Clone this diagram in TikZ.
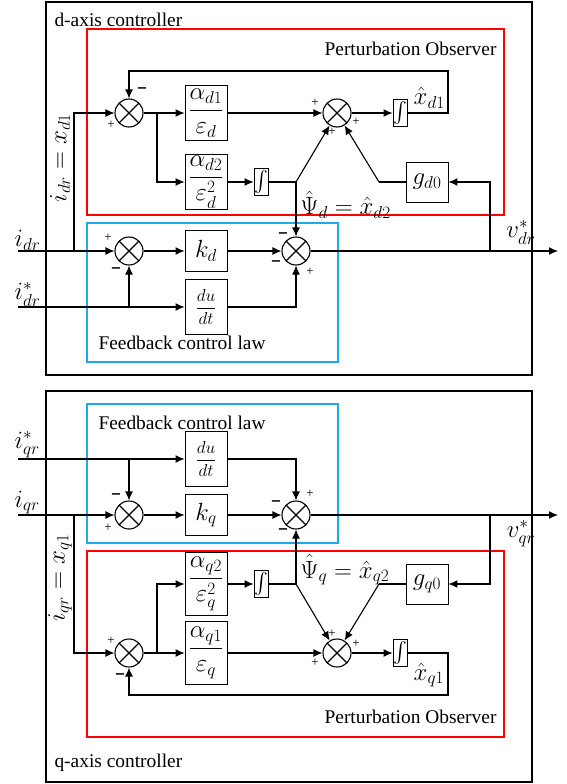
\documentclass[tikz,border=0pt]{standalone}
\usepackage{amsmath}
\usepackage{fontspec}
\setmainfont{Liberation Serif}
\newfontfamily\signfont{DejaVu Sans}
\usetikzlibrary{arrows.meta}

\tikzset{
  blk/.style={draw, line width=0.9pt, minimum width=42pt, minimum height=41pt,
              inner sep=0, font=\fontsize{26}{30}\selectfont},
  intg/.style={draw, line width=0.9pt, minimum width=14pt, minimum height=27pt,
               inner sep=0, font=\fontsize{20}{24}\selectfont},
  sumj/.style={circle, draw, line width=1.1pt, minimum size=28pt, inner sep=0,
               path picture={\draw[line width=1.1pt]
                 (path picture bounding box.south west) -- (path picture bounding box.north east)
                 (path picture bounding box.north west) -- (path picture bounding box.south east);}},
  sig/.style={-{Latex[length=9pt,width=8pt]}, line width=1.1pt},
  wire/.style={line width=1.1pt},
  mth/.style={font=\fontsize{23}{27}\selectfont, inner sep=0.5pt},
  pls/.style={font=\fontsize{13}{13}\selectfont, inner sep=0},
  mns/.style={font=\signfont\bfseries\fontsize{13}{13}\selectfont, inner sep=0},
}
\colorlet{pocol}{red}
\definecolor{fbcol}{RGB}{30,170,230}

\begin{document}
\begin{tikzpicture}[x=1pt, y=-1pt, font=\fontsize{19.4}{23}\selectfont]
  \useasboundingbox (0,0) rectangle (566,784);

  % d-axis on top, q-axis mirrored below
  \foreach \ax/\ys/\yo/\bh/\bt/\cy/\mx/\ry/\psy/\xhy in {
      d/1/0/55/2/20/142/158/205/98,
      q/-1/766/63/-16/3/120/188/196/91} {
  \begin{scope}[yshift=-\yo pt, yscale=\ys]

    % Controller frame and sub-frames
    \draw[line width=1.3pt] (46,\bt) rectangle (532,375);
    \node[anchor=west] (ctl) at (51,\cy) {\ax-axis controller};
    \draw[pocol, line width=1.1pt] (87,29) rectangle (504,215);
    \draw[fbcol, line width=1.1pt] (87,223) rectangle (338,362);
    \node[anchor=east] (polab) at (500,49) {Perturbation Observer};
    \node[anchor=west] (fblab) at (95,343) {Feedback control law};

    % Observer blocks
    \node[sumj] (s1) at (129,113) {};
    \node[blk, minimum height=\bh pt] (a1) at (206,113)
         {$\dfrac{\alpha_{\ax1}}{\varepsilon_{\ax}}$};
    \node[blk, minimum height=\bh pt] (a2) at (206,182)
         {$\dfrac{\alpha_{\ax2}}{\varepsilon_{\ax}^{2}}$};
    \node[intg] (i1) at (261,182) {$\int$};
    \node[sumj] (s2) at (337,113) {};
    \node[intg] (i2) at (400,113) {$\int$};
    \node[blk, minimum height=40pt] (g0) at (427,182) {$g_{\ax0}$};

    % Feedback control law blocks
    \node[sumj] (s4) at (129,251) {};
    \node[blk] (kk) at (206,251) {$k_{\ax}$};
    \node[blk, minimum height=55pt, font=\fontsize{19}{22}\selectfont] (du) at (206,307)
         {$\dfrac{du}{dt}$};
    \node[sumj] (s3) at (296,251) {};

    \coordinate (in1) at (18,251);
    \coordinate (in2) at (18,307);
    \coordinate (tap) at (74,251);
    \coordinate (br1) at (157,113);
    \coordinate (br2) at (129,307);
    \coordinate (jn) at (296,182);
    \coordinate (gk) at (379,182);
    \coordinate (fb) at (448,71);
    \coordinate (vtap) at (490,251);
    \coordinate (vout) at (558,251);

    % Observer wiring
    \draw[sig] (tap) |- (s1);
    \draw[sig] (s1) -- (a1);
    \draw[sig] (br1) |- (a2);
    \draw[sig] (a2) -- (i1);
    \draw[wire] (i1) -- (jn);
    \draw[sig] (jn) -- (s2);
    \draw[sig] (a1) -- (s2);
    \draw[sig] (s2) -- (i2);
    \draw[sig] (i2) -| (fb) -| (s1);
    \draw[sig] (vtap) |- (g0);
    \draw[wire] (g0) -- (gk);
    \draw[sig] (gk) -- (s2);

    % Control law wiring
    \draw[sig] (in1) -- (s4);
    \draw[sig] (in2) -- (du);
    \draw[sig] (br2) -- (s4);
    \draw[sig] (s4) -- (kk);
    \draw[sig] (kk) -- (s3);
    \draw[sig] (du) -| (s3);
    \draw[sig] (jn) -- (s3);
    \draw[sig] (s3) -- (vout);

    % Signal labels
    \node[mth, anchor=south west] (ilab) at ([xshift=-4pt]in1) {$i_{\ax r}$};
    \node[mth, anchor=south west] (islab) at ([xshift=-4pt]in2) {$i^{*}_{\ax r}$};
    \node[mth] (vlab) at (521,232) {$v^{*}_{\ax r}$};
    \node[mth, rotate=90] (xlab) at (60,\ry) {$i_{\ax r} = x_{\ax1}$};
    \node[mth, anchor=west] (psilab) at (300,\psy) {$\hat{\Psi}_{\ax} = \hat{x}_{\ax2}$};
    \node[mth, anchor=west] (xhlab) at (413,\xhy) {$\hat{x}_{\ax1}$};

    % Signs at the summing junctions
    \foreach \px/\py [count=\n] in {111/125, 108/238, 310/272, 315/103, 332/132, 356/122}
      \node[pls] (pl\n) at (\px,\py) {+};
    \foreach \px/\py [count=\n] in {\mx/90, 116/270, 283/235, 276/263}
      \node[mns] (mn\n) at (\px,\py) {−};
  \end{scope}
  }
\end{tikzpicture}
\end{document}
